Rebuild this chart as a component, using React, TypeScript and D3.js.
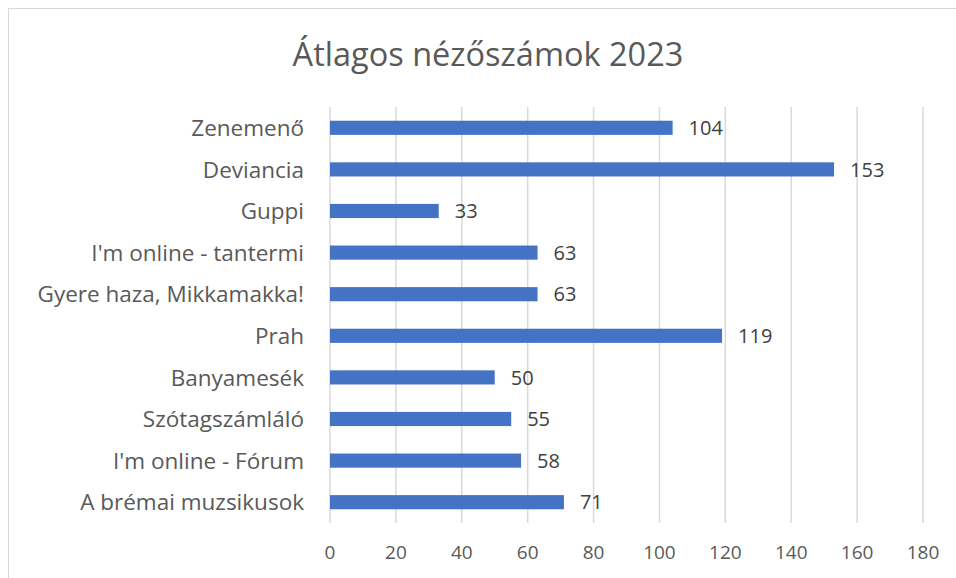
import React, { useEffect, useRef } from "react";
import * as d3 from "d3";

const categories = [
  "Zenemenő",
  "Deviancia",
  "Guppi",
  "I'm online - tantermi",
  "Gyere haza, Mikkamakka!",
  "Prah",
  "Banyamesék",
  "Szótagszámláló",
  "I'm online - Fórum",
  "A brémai muzsikusok",
];
const values = [104, 153, 33, 63, 63, 119, 50, 55, 58, 71];
const ticks = [0, 20, 40, 60, 80, 100, 120, 140, 160, 180];

const W = 956;
const H = 578;
const font = "'Open Sans', sans-serif";

function App() {
  const svgRef = useRef<SVGSVGElement>(null);

  useEffect(() => {
    const svg = d3.select(svgRef.current);
    svg.selectAll("*").remove();

    // chart frame
    svg.append("rect")
      .attr("x", 8.5).attr("y", 8.5)
      .attr("width", W).attr("height", H)
      .attr("fill", "#fff").attr("stroke", "#d9d9d9");

    svg.append("text")
      .attr("x", 488).attr("y", 66)
      .attr("text-anchor", "middle")
      .style("font-family", font).style("font-size", "32.5px")
      .style("fill", "#595959")
      .text("Átlagos nézőszámok 2023");

    const x = d3.scaleLinear().domain([0, 180]).range([330, 923]);
    const y = d3.scaleBand().domain(categories).range([107, 523]).paddingInner(0.66).paddingOuter(0.33);

    // gridlines
    svg.append("g").selectAll("line")
      .data(ticks).enter().append("line")
      .attr("x1", (d) => x(d)).attr("x2", (d) => x(d))
      .attr("y1", 107).attr("y2", 523)
      .attr("stroke", "#d9d9d9").attr("stroke-width", 1.5);

    // tick labels
    svg.append("g").selectAll("text")
      .data(ticks).enter().append("text")
      .attr("x", (d) => x(d)).attr("y", 559)
      .attr("text-anchor", "middle")
      .style("font-family", font).style("font-size", "19px")
      .style("fill", "#595959")
      .text((d) => d);

    const data = categories.map((c, i) => ({ c, v: values[i] }));

    svg.append("g").selectAll("rect")
      .data(data).enter().append("rect")
      .attr("x", x(0))
      .attr("y", (d) => y(d.c)!)
      .attr("width", (d) => x(d.v) - x(0))
      .attr("height", y.bandwidth())
      .attr("fill", "#4472c4");

    svg.append("g").selectAll("text")
      .data(data).enter().append("text")
      .attr("x", (d) => x(d.v) + 16)
      .attr("y", (d) => y(d.c)! + y.bandwidth() / 2)
      .attr("dy", "0.36em")
      .style("font-family", font).style("font-size", "20px")
      .style("fill", "#404040")
      .text((d) => d.v);

    // category labels
    svg.append("g").selectAll("text")
      .data(data).enter().append("text")
      .attr("x", 304)
      .attr("y", (d) => y(d.c)! + y.bandwidth() / 2)
      .attr("dy", "0.36em")
      .attr("text-anchor", "end")
      .style("font-family", font).style("font-size", "22.5px")
      .style("fill", "#595959")
      .text((d) => d.c);
  }, []);

  return (
    <svg ref={svgRef} width={W} height={H}
      style={{ position: "absolute", left: 0, top: 0 }} />
  );
}

export default App;
